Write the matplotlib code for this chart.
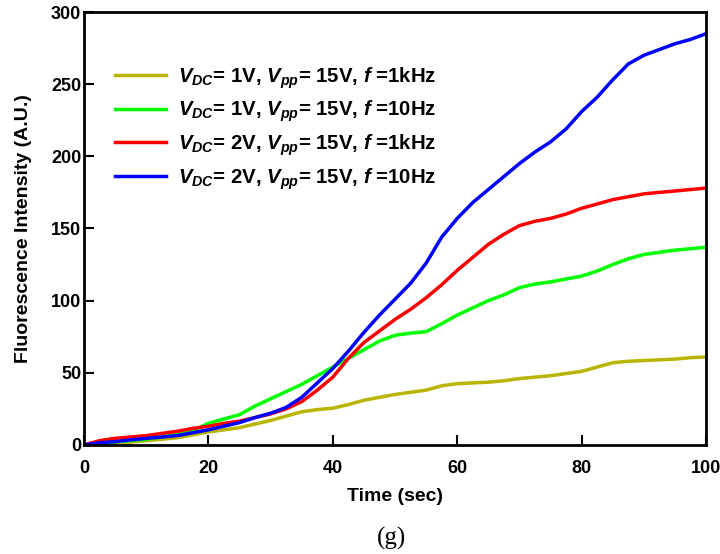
import matplotlib
matplotlib.use('Agg')
import matplotlib.pyplot as plt

time = [0, 2.5, 5, 7.5, 10, 12.5, 15, 17.5, 20, 22.5, 25, 27.5, 30, 32.5, 35, 37.5,
        40, 42.5, 45, 47.5, 50, 52.5, 55, 57.5, 60, 62.5, 65, 67.5, 70, 72.5, 75,
        77.5, 80, 82.5, 85, 87.5, 90, 92.5, 95, 97.5, 100]
dc1_1khz = [0, 0.5, 1, 2, 3, 4, 5, 7, 9, 10.5, 12, 14.5, 17, 20, 23, 24.5,
            25.5, 28, 31, 33, 35, 36.5, 38, 41, 42.5, 43, 43.5, 44.5, 46, 47, 48,
            49.5, 51, 54, 57, 58, 58.5, 59, 59.5, 60.5, 61]
dc1_10hz = [0, 1, 2, 3, 4, 5.5, 7.5, 10, 15, 18, 21, 27, 32, 37, 42, 48,
            54, 60, 66, 72, 76, 77.5, 78.5, 84, 90, 95, 100, 104, 109, 111.5, 113,
            115, 117, 120.5, 125, 129, 132, 133.5, 135, 136, 137]
dc2_1khz = [0, 3, 4.6, 5.5, 6.5, 8, 9.5, 11.5, 13, 15, 16.5, 19, 21.5, 25, 30, 38,
            47, 60, 71, 79, 87, 94, 102, 111, 121, 130, 139, 146, 152, 155, 157,
            160, 164, 167, 170, 172, 174, 175, 176, 177, 178]
dc2_10hz = [0, 1.5, 2.3, 3.5, 4.6, 5.5, 6.5, 8.5, 10.5, 13, 15.5, 19, 22, 26, 33, 43,
            53, 65, 78, 90, 101, 112, 126, 144, 157, 168, 177, 186, 195, 203, 210,
            219, 231, 241, 253, 264, 270, 274, 278, 281, 285]

labels = [
    r'$V_{DC}$= 1V, $V_{pp}$= 15V, $f$ =1kHz',
    r'$V_{DC}$= 1V, $V_{pp}$= 15V, $f$ =10Hz',
    r'$V_{DC}$= 2V, $V_{pp}$= 15V, $f$ =1kHz',
    r'$V_{DC}$= 2V, $V_{pp}$= 15V, $f$ =10Hz',
]
colors = ['#b8b400', '#00ff00', '#ff0000', '#0000ff']

plt.rcParams['font.family'] = 'Liberation Sans'
plt.rcParams['font.weight'] = 'bold'
plt.rcParams['mathtext.fontset'] = 'custom'
plt.rcParams['mathtext.rm'] = 'Liberation Sans:bold'
plt.rcParams['mathtext.it'] = 'Liberation Sans:italic:bold'
plt.rcParams['mathtext.bf'] = 'Liberation Sans:bold'

fig = plt.figure(figsize=(7.2, 5.54), dpi=100)
ax = fig.add_axes([0.1167, 0.1968, 0.8639, 0.7815])

for ys, c, lab in zip([dc1_1khz, dc1_10hz, dc2_1khz, dc2_10hz], colors, labels):
    ax.plot(time, ys, color=c, lw=2.5, label=lab, solid_joinstyle='round')

ax.set_xlim(0, 100)
ax.set_ylim(0, 300)
ax.set_xticks([0, 20, 40, 60, 80, 100])
ax.set_yticks([0, 50, 100, 150, 200, 250, 300])
ax.tick_params(direction='in', length=7, width=1.5, labelsize=13)
ax.tick_params(axis='x', pad=11)
ax.tick_params(axis='y', pad=2)
for s in ax.spines.values():
    s.set_linewidth(2)

ax.set_xlabel('Time (sec)', fontsize=14, fontweight='bold', labelpad=8)
ax.set_ylabel('Fluorescence Intensity (A.U.)', fontsize=14, fontweight='bold', labelpad=14)

ax.legend(loc='upper left', bbox_to_anchor=(0.02, 0.92), frameon=False,
          fontsize=14.7, handlelength=2.5, labelspacing=0.4, handletextpad=0.6)

fig.text(0.544, 0.028, '(g)', fontsize=18, fontfamily='Liberation Serif',
         fontweight='normal', ha='center', va='center')

fig.savefig('out.png', dpi=100)
